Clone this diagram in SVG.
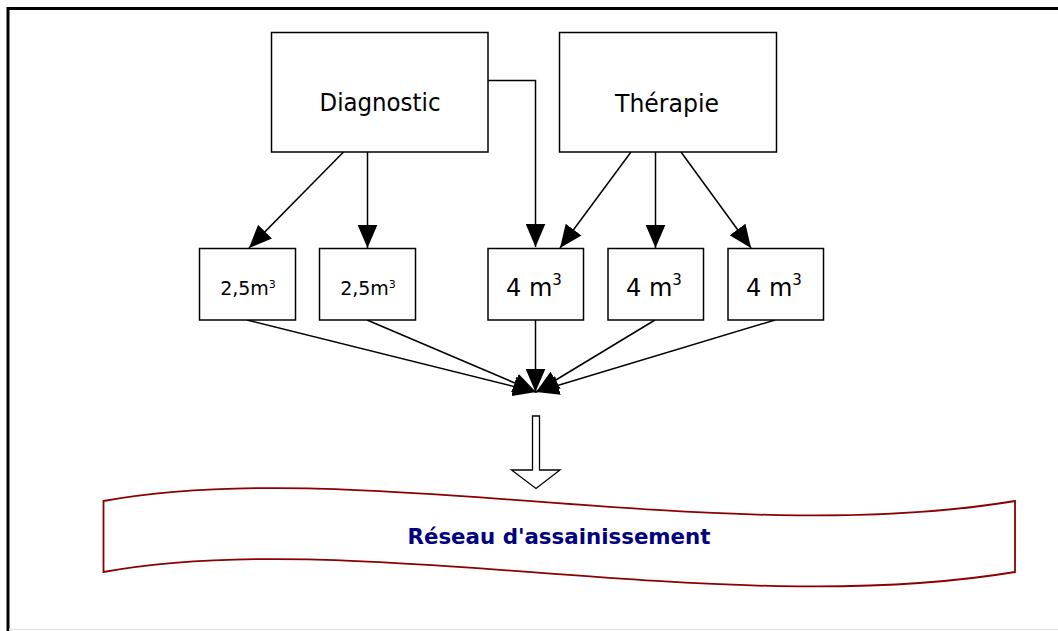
<svg xmlns="http://www.w3.org/2000/svg" width="1058" height="631" viewBox="0 0 1058 631">
<style>
.box{fill:#fff;stroke:#000;stroke-width:1.5}
.lbl{font-family:"DejaVu Sans",Verdana,sans-serif;fill:#000;text-anchor:middle}
.con{stroke:#000;stroke-width:1.5;fill:none}
.arr{marker-end:url(#ah)}
</style>
<defs>
<marker id="ah" markerUnits="userSpaceOnUse" markerWidth="24" markerHeight="20" viewBox="0 0 22 18" refX="21" refY="9" orient="auto">
<path d="M0,0 L21,9 L0,18 Z" fill="#000"/>
</marker>
</defs>
<rect width="1058" height="631" fill="#fff"/>
<g id="frame">
<rect x="8" y="8.5" width="1070" height="640" fill="none" stroke="#000" stroke-width="3"/>
<line x1="9" y1="629.5" x2="1058" y2="629.5" stroke="#e6e6e6" stroke-width="1.5"/>
</g>
<g id="connectors">
<polyline class="con arr" points="488,80.5 535.5,80.5 535.5,247"/>
<line class="con arr" x1="343.5" y1="152" x2="249" y2="248"/>
<line class="con arr" x1="367.5" y1="152" x2="367.5" y2="248"/>
<line class="con arr" x1="631" y1="152" x2="560" y2="248"/>
<line class="con arr" x1="655.5" y1="152" x2="655.5" y2="248"/>
<line class="con arr" x1="681" y1="152" x2="751" y2="248"/>
<line class="con arr" x1="247" y1="320" x2="536" y2="392"/>
<line class="con arr" x1="367" y1="320" x2="536" y2="392"/>
<line class="con arr" x1="535.5" y1="320" x2="535.5" y2="392"/>
<line class="con arr" x1="655" y1="320" x2="536" y2="392"/>
<line class="con arr" x1="775" y1="320" x2="536" y2="392"/>
<path id="hollow-arrow" d="M532.5,416 L539.5,416 L539.5,470 L560,470 L536,488.5 L511.5,470 L532.5,470 Z" fill="#fff" stroke="#000" stroke-width="1.3"/>
</g>
<g id="diagnostic">
<rect class="box" x="271.5" y="32.5" width="216.5" height="119.5"/>
<text class="lbl" x="380" y="111" font-size="24" textLength="121" lengthAdjust="spacingAndGlyphs">Diagnostic</text>
</g>
<g id="therapie">
<rect class="box" x="559.5" y="32.5" width="217" height="119.5"/>
<text class="lbl" x="667" y="111.5" font-size="24" textLength="104" lengthAdjust="spacingAndGlyphs">Thérapie</text>
</g>
<g id="v1">
<rect class="box" x="199.5" y="248.5" width="96" height="71.5"/>
<text class="lbl" x="248" y="295" font-size="19">2,5m<tspan font-size="11" dy="-7">3</tspan></text>
</g>
<g id="v2">
<rect class="box" x="319.5" y="248.5" width="96" height="71.5"/>
<text class="lbl" x="368" y="295" font-size="19">2,5m<tspan font-size="11" dy="-7">3</tspan></text>
</g>
<g id="v3">
<rect class="box" x="488" y="248.5" width="95.5" height="71.5"/>
<text class="lbl" x="534" y="295.5" font-size="24">4 m<tspan font-size="15" dy="-11">3</tspan></text>
</g>
<g id="v4">
<rect class="box" x="608" y="248.5" width="95.5" height="71.5"/>
<text class="lbl" x="654" y="295.5" font-size="24">4 m<tspan font-size="15" dy="-11">3</tspan></text>
</g>
<g id="v5">
<rect class="box" x="728" y="248.5" width="95.5" height="71.5"/>
<text class="lbl" x="774" y="295.5" font-size="24">4 m<tspan font-size="15" dy="-11">3</tspan></text>
</g>
<g id="reseau">
<path d="M103.5,501 C360,455 720,550 1015,501 L1015,572 C720,621 360,526 103.5,572 Z" fill="#fff" stroke="#8b0000" stroke-width="1.8"/>
<text x="559" y="544" font-family="'DejaVu Sans',Verdana,sans-serif" font-weight="bold" font-size="22" fill="#000080" text-anchor="middle" textLength="303" lengthAdjust="spacingAndGlyphs">Réseau d'assainissement</text>
</g>
</svg>
